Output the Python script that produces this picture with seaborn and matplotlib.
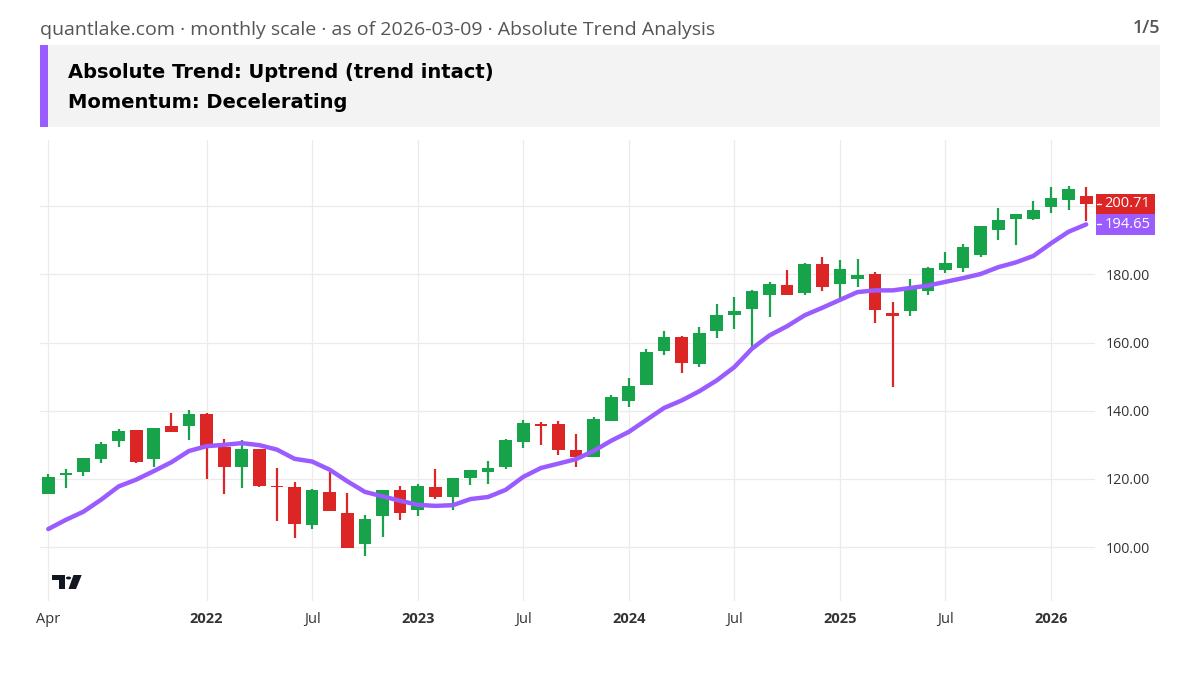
import numpy as np
import seaborn as sns
import matplotlib.pyplot as plt
from matplotlib.patches import Rectangle, Polygon, Circle
from matplotlib.transforms import blended_transform_factory

# monthly candles, Apr 2021 .. Mar 2026
opens = [115.5, 121.1, 122.0, 125.8, 131.1, 134.3, 125.7, 135.5, 135.6, 139.0,
         129.3, 123.4, 128.7, 118.0, 117.7, 106.6, 116.3, 110.0, 100.9, 109.0,
         116.8, 111.0, 117.7, 114.6, 120.2, 122.0, 123.4, 130.8, 136.2, 136.2,
         128.5, 126.3, 137.1, 142.8, 147.5, 157.5, 161.5, 153.7, 163.4, 168.1,
         169.9, 174.0, 177.0, 174.5, 182.9, 177.2, 178.6, 180.0, 168.8, 169.2,
         175.1, 181.3, 182.0, 185.8, 193.1, 196.3, 196.3, 199.8, 201.8, 203.0]
highs = [121.5, 122.8, 126.2, 130.7, 134.6, 134.4, 135.0, 139.3, 140.2, 139.3,
         131.8, 131.5, 128.9, 123.3, 119.2, 117.1, 122.0, 116.0, 109.5, 116.8,
         118.0, 118.6, 122.8, 120.4, 122.5, 125.4, 131.6, 137.2, 136.6, 136.9,
         133.2, 138.3, 144.7, 149.7, 158.0, 163.3, 161.8, 164.5, 171.3, 173.3,
         175.4, 177.7, 181.3, 183.2, 185.0, 184.1, 184.4, 180.6, 171.8, 178.5,
         182.1, 186.6, 188.9, 194.2, 199.4, 197.7, 201.5, 205.5, 205.9, 205.6]
lows = [115.5, 117.2, 120.8, 124.6, 129.4, 124.8, 123.4, 133.7, 131.4, 120.0,
        115.5, 117.2, 117.5, 107.8, 102.8, 105.4, 110.7, 99.8, 97.4, 103.1,
        108.1, 109.0, 114.0, 111.0, 118.1, 118.4, 122.9, 129.1, 130.0, 127.0,
        123.6, 126.3, 136.9, 141.0, 147.5, 156.2, 151.0, 152.7, 161.3, 164.0,
        158.5, 167.5, 174.0, 173.9, 175.1, 172.9, 176.3, 165.7, 146.9, 167.7,
        173.9, 180.3, 180.7, 185.2, 190.1, 188.6, 196.0, 198.1, 198.8, 195.6]
closes = [120.6, 121.8, 126.0, 130.1, 134.0, 124.9, 134.9, 133.8, 139.0, 129.7,
          123.4, 128.7, 117.8, 117.5, 106.9, 116.8, 110.7, 99.8, 108.3, 116.8,
          109.9, 118.0, 114.6, 120.4, 122.5, 123.3, 131.3, 136.4, 135.6, 128.5,
          126.3, 137.7, 144.1, 147.4, 157.1, 161.5, 154.0, 162.7, 168.0, 169.2,
          175.1, 177.2, 174.0, 182.9, 176.3, 181.5, 179.7, 169.5, 167.7, 175.6,
          181.8, 183.2, 188.1, 194.2, 195.9, 197.7, 198.8, 202.5, 205.0, 200.71]
trend_ma = [105.3, 108.0, 110.4, 113.9, 117.8, 119.8, 122.3, 124.9, 128.2, 129.6,
            130.0, 130.5, 129.9, 128.6, 125.9, 125.1, 122.7, 119.3, 116.2, 114.9,
            113.6, 112.4, 112.1, 112.3, 114.1, 114.7, 116.8, 120.6, 123.2, 124.5,
            125.8, 128.2, 131.2, 133.8, 137.3, 140.8, 143.0, 145.7, 148.9, 152.8,
            158.2, 162.1, 164.8, 168.0, 170.2, 172.5, 174.8, 175.3, 175.3, 176.0,
            176.7, 177.8, 178.9, 180.1, 182.1, 183.5, 185.4, 189.1, 192.5, 194.65]

tick_pos = [0, 9, 15, 21, 27, 33, 39, 45, 51, 57]
tick_labels = ["Apr", "2022", "Jul", "2023", "Jul", "2024", "Jul", "2025", "Jul", "2026"]
y_ticks = [100, 120, 140, 160, 180, 200]

GREEN = "#16a34a"
RED = "#dc2626"
PURPLE = "#9a5cff"

sns.set_theme(style="white")
plt.rcParams['font.family'] = ['Open Sans', 'DejaVu Sans']

W, H = 1200, 675
fig = plt.figure(figsize=(12, 6.75), dpi=100)
fig.patch.set_facecolor("white")


def fx(px):
    return px / W


def fy(py):
    return 1 - py / H


ax = fig.add_axes([fx(40), fy(601), fx(1095) - fx(40), fy(140) - fy(601)])

idx = np.arange(len(opens))
o = np.array(opens)
c = np.array(closes)
cols = [GREEN if cc >= oo else RED for oo, cc in zip(o, c)]

# wicks + bodies
ax.vlines(idx, lows, highs, colors=cols, linewidth=1.6, zorder=3)
ax.bar(idx, np.abs(c - o), bottom=np.minimum(o, c), width=0.72,
       color=cols, linewidth=0, zorder=4)

# trend line
sns.lineplot(x=idx, y=trend_ma, ax=ax, color=PURPLE, linewidth=3.2, zorder=5)

ax.set_xlim(-0.47, 59.5)
ax.set_ylim(84.2, 219.4)
ax.set_xticks(tick_pos)
ax.set_xticklabels(tick_labels)
for lab, txt in zip(ax.get_xticklabels(), tick_labels):
    if txt.isdigit():
        lab.set_fontweight("bold")
        lab.set_color("#111111")
ax.yaxis.tick_right()
ax.set_yticks(y_ticks)
# the 200.00 label sits under the last-price tag, so it is left blank
ax.set_yticklabels([f"{v:.2f}" if v != 200 else "" for v in y_ticks])
ax.tick_params(axis="y", length=0, pad=8, labelsize=10.2, labelcolor="#333333")
ax.tick_params(axis="x", length=0, pad=8, labelsize=10.5, labelcolor="#333333")
ax.grid(True, color="#ebebeb", linewidth=0.9)
for s in ax.spines.values():
    s.set_visible(False)

# last value labels on the price scale
tr = blended_transform_factory(ax.transAxes, ax.transData)
units_per_px = (219.4 - 84.2) / 461.0
half_h = 10.2 * units_per_px
x0 = 1.0 + 1.0 / 1055
x1 = 1.0 + 60.0 / 1055
for val, col in [(closes[-1], RED), (trend_ma[-1], PURPLE)]:
    ax.add_patch(Rectangle((x0, val - half_h), x1 - x0, 2 * half_h, transform=tr,
                           fc=col, ec="none", clip_on=False, zorder=6))
    ax.plot([x0 + 1.5 / 1055, x0 + 5.0 / 1055], [val, val], transform=tr,
            color="white", linewidth=1.0, clip_on=False, zorder=7)
    ax.text((x0 + x1) / 2 + 2.0 / 1055, val, f"{val:.2f}", transform=tr, ha="center",
            va="center", fontsize=10.5, color="white", zorder=8, clip_on=False)

# header
fig.text(fx(40), fy(30), "quantlake.com \u00b7 monthly scale \u00b7 as of 2026-03-09 \u00b7 Absolute Trend Analysis",
         ha="left", va="center", fontsize=14, color="#555555")
fig.text(fx(1160), fy(28), "1/5", ha="right", va="center", fontsize=13, color="#555555",
         fontweight="semibold")
fig.patches.append(Rectangle((fx(40), fy(127)), fx(1160) - fx(40), fy(45) - fy(127),
                             transform=fig.transFigure, fc="#f3f3f3", ec="none", zorder=0))
fig.patches.append(Rectangle((fx(40), fy(127)), fx(48) - fx(40), fy(45) - fy(127),
                             transform=fig.transFigure, fc=PURPLE, ec="none", zorder=1))
fig.text(fx(68), fy(73), "Absolute Trend: Uptrend (trend intact)", ha="left", va="center",
         fontsize=14, fontweight="bold", color="#000000", family=["DejaVu Sans"])
fig.text(fx(68), fy(102), "Momentum: Decelerating", ha="left", va="center",
         fontsize=14, fontweight="bold", color="#000000", family=["DejaVu Sans"])

# small logo mark
logo = "#131722"
fig.patches.append(Rectangle((fx(52), fy(580)), fx(65) - fx(52), fy(575) - fy(580),
                             transform=fig.transFigure, fc=logo, ec="none"))
fig.patches.append(Rectangle((fx(58.5), fy(589)), fx(65) - fx(58.5), fy(575) - fy(589),
                             transform=fig.transFigure, fc=logo, ec="none"))
fig.patches.append(Circle((fx(68.5), fy(578)), 2.6 / W, transform=fig.transFigure,
                          fc=logo, ec="none"))
fig.patches.append(Polygon([(fx(73.5), fy(575)), (fx(81.7), fy(575)), (fx(76), fy(589)),
                            (fx(68.5), fy(589))], closed=True, transform=fig.transFigure,
                           fc=logo, ec="none"))

fig.savefig("out.png", dpi=100)
